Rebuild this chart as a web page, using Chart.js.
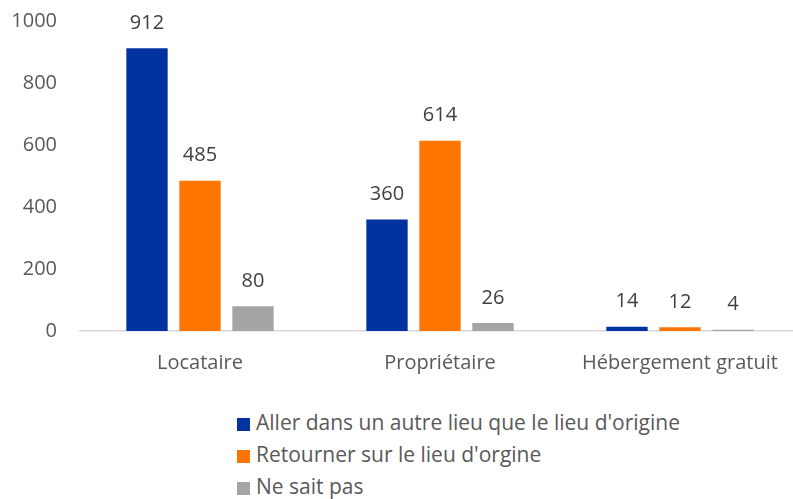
<!DOCTYPE html>
<html>
<head>
<meta charset="utf-8">
<script src="https://cdn.jsdelivr.net/npm/chart.js@4.4.0/dist/chart.umd.min.js"></script>
<style>
    html, body { margin: 0; padding: 0; background: #fff; overflow: hidden; }
    #wrap { width: 800px; height: 417px; margin-top: -14px; position: relative; }
    #legend { position: absolute; left: 237px; top: 406px; font-family: "Open Sans", sans-serif; font-size: 21px; color: #595959; }
    #legend div { height: 32px; line-height: 32px; white-space: nowrap; }
    #legend span { display: inline-block; width: 13px; height: 13px; margin-right: 6px; vertical-align: -1px; }
</style>
</head>
<body>
<div id="wrap"><canvas id="barchart"></canvas></div>
<div id="legend"></div>
<script>
const categories = ['Locataire', 'Propriétaire', 'Hébergement gratuit'];
const seriesNames = [
    "Aller dans un autre lieu que le lieu d'origine",
    "Retourner sur le lieu d'orgine",
    'Ne sait pas'
];
const autreLieu = [912, 360, 14];
const retourner = [485, 614, 12];
const neSaitPas = [80, 26, 4];
const yTicks = [0, 200, 400, 600, 800, 1000];

const colors = ['#0033A0', '#FF7500', '#A5A5A5'];

// etiquettes de valeur au-dessus des barres
const valueLabels = {
    id: 'valueLabels',
    afterDatasetsDraw(chart) {
        const ctx = chart.ctx;
        ctx.save();
        ctx.font = '20px "Open Sans", sans-serif';
        ctx.fillStyle = '#404040';
        ctx.textAlign = 'center';
        ctx.textBaseline = 'middle';
        chart.data.datasets.forEach((ds, i) => {
            chart.getDatasetMeta(i).data.forEach((bar, j) => {
                ctx.fillText(ds.data[j], bar.x, bar.y - 25);
            });
        });
        ctx.restore();
    }
};

const ctx = document.getElementById('barchart').getContext('2d');

const chart = new Chart(ctx, {
    type: 'bar',
    data: {
        labels: categories,
        datasets: [
            { label: seriesNames[0], data: autreLieu, backgroundColor: colors[0] },
            { label: seriesNames[1], data: retourner, backgroundColor: colors[1] },
            { label: seriesNames[2], data: neSaitPas, backgroundColor: colors[2] }
        ]
    },
    options: {
        responsive: true,
        maintainAspectRatio: false,
        animation: false,
        layout: { padding: { top: -3, right: 0, bottom: 8, left: 0 } },
        datasets: {
            bar: { categoryPercentage: 0.6625, barPercentage: 0.78 }
        },
        plugins: {
            legend: { display: false },
            tooltip: { enabled: false }
        },
        scales: {
            x: {
                grid: { display: false, drawTicks: false },
                border: { display: true, color: '#D9D9D9', width: 1.5 },
                ticks: {
                    color: '#595959',
                    padding: 20,
                    font: { family: 'Open Sans', size: 20 }
                }
            },
            y: {
                min: 0,
                max: 1000,
                afterFit: function(scale) { scale.width = 80; },
                afterBuildTicks: function(scale) {
                    scale.ticks = yTicks.map(v => ({ value: v }));
                },
                grid: { display: false, drawTicks: false },
                border: { display: false },
                ticks: {
                    color: '#595959',
                    padding: 23,
                    font: { family: 'Open Sans', size: 20 },
                    callback: function(value) {
                        return String(value);
                    }
                }
            }
        }
    },
    plugins: [valueLabels]
});

const legend = document.getElementById('legend');
chart.data.datasets.forEach(ds => {
    const row = document.createElement('div');
    const box = document.createElement('span');
    box.style.background = ds.backgroundColor;
    row.appendChild(box);
    row.appendChild(document.createTextNode(ds.label));
    legend.appendChild(row);
});
</script>
</body>
</html>
